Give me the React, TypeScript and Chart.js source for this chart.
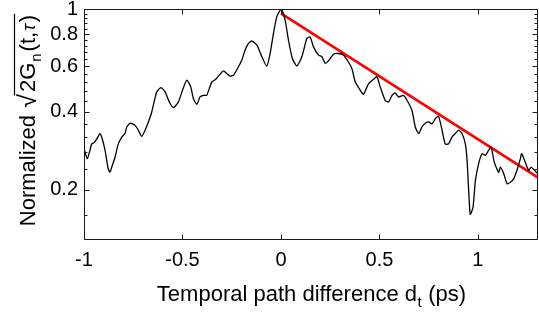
import React, { useEffect, useRef } from "react";
import { Chart, registerables } from "chart.js";

Chart.register(...registerables);

// ---- data ----
const traceX = [
  -1.0, -0.992, -0.983, -0.97, -0.961, -0.948, -0.935, -0.919, -0.91, -0.893,
  -0.877, -0.868, -0.859, -0.842, -0.826, -0.808, -0.792, -0.783, -0.766, -0.741,
  -0.724, -0.707, -0.69, -0.673, -0.656, -0.631, -0.609, -0.588, -0.567, -0.546,
  -0.521, -0.495, -0.478, -0.458, -0.445, -0.427, -0.411, -0.394, -0.377, -0.351,
  -0.334, -0.318, -0.292, -0.275, -0.258, -0.241, -0.216, -0.199, -0.182, -0.165,
  -0.148, -0.122, -0.097, -0.072, -0.055, -0.038, -0.021, 0.001, 0.021, 0.038,
  0.058, 0.081, 0.106, 0.132, 0.148, 0.165, 0.191, 0.208, 0.225, 0.241,
  0.267, 0.292, 0.318, 0.335, 0.36, 0.377, 0.402, 0.419, 0.445, 0.47,
  0.487, 0.504, 0.529, 0.546, 0.564, 0.58, 0.597, 0.622, 0.64, 0.665,
  0.682, 0.699, 0.716, 0.733, 0.75, 0.767, 0.784, 0.8, 0.818, 0.834,
  0.851, 0.868, 0.885, 0.902, 0.919, 0.936, 0.945, 0.953, 0.961, 0.975,
  0.987, 1.004, 1.021, 1.038, 1.054, 1.067, 1.083, 1.105, 1.114, 1.131,
  1.148, 1.165, 1.181, 1.198, 1.215, 1.222, 1.24, 1.258, 1.27, 1.287,
  1.303,
];
const traceY = [
  0.29, 0.275, 0.264, 0.284, 0.301, 0.305, 0.315, 0.33, 0.32, 0.284,
  0.241, 0.234, 0.245, 0.268, 0.301, 0.32, 0.33, 0.35, 0.362, 0.355,
  0.34, 0.322, 0.34, 0.366, 0.4, 0.478, 0.497, 0.478, 0.437, 0.416,
  0.437, 0.497, 0.531, 0.5, 0.451, 0.428, 0.457, 0.464, 0.464, 0.523,
  0.533, 0.55, 0.577, 0.563, 0.55, 0.555, 0.598, 0.634, 0.694, 0.736,
  0.752, 0.725, 0.654, 0.601, 0.673, 0.805, 0.934, 1.0, 0.906, 0.758,
  0.644, 0.603, 0.654, 0.77, 0.78, 0.714, 0.663, 0.654, 0.616, 0.63,
  0.669, 0.673, 0.663, 0.638, 0.589, 0.523, 0.486, 0.468, 0.515, 0.535,
  0.547, 0.5, 0.444, 0.437, 0.464, 0.474, 0.457, 0.464, 0.444, 0.406,
  0.35, 0.33, 0.35, 0.362, 0.366, 0.36, 0.377, 0.385, 0.34, 0.301,
  0.301, 0.32, 0.33, 0.34, 0.33, 0.301, 0.26, 0.199, 0.161, 0.171,
  0.217, 0.253, 0.276, 0.272, 0.284, 0.293, 0.256, 0.234, 0.245, 0.231,
  0.211, 0.214, 0.22, 0.238, 0.263, 0.276, 0.256, 0.238, 0.245, 0.238,
  0.231,
];
const fitX = [0, 1.305];
const fitY = [0.962, 0.223];

const xTickValues = [-1, -0.5, 0, 0.5, 1];
const yTickValues = [0.2, 0.4, 0.6, 0.8, 1];
const yMinorTickValues = [
  0.16, 0.24, 0.28, 0.32, 0.36, 0.44, 0.48, 0.52, 0.56, 0.64, 0.68, 0.72, 0.76,
  0.84, 0.88, 0.92, 0.96,
];
const X_MIN = -1;
const X_MAX = 1.305;
const Y_MIN = 0.128;
const Y_MAX = 1;

const xTitleMain = "Temporal path difference d";
const xTitleSub = "t";
const xTitleTail = " (ps)";
const yTitleLead = "Normalized ";
const yTitleRadical = "\u221A";
const yTitleA = "2G";
const yTitleSub = "n";
const yTitleB = "(t,";
const yTitleTau = "\u03C4";
const yTitleC = ")";

const FAMILY = "'Liberation Sans', Arial, Helvetica, sans-serif";

const framePlugin = {
  id: "frameAndTitles",
  afterDraw(chart: any) {
    const { ctx, chartArea: a, scales } = chart;
    const xs = scales.x;
    const ys = scales.y;
    const L = Math.floor(a.left) + 0.5;
    const R = Math.ceil(a.right) - 0.5;
    const T = Math.floor(a.top) + 0.5;
    const B = Math.ceil(a.bottom) - 0.5;
    ctx.save();
    ctx.strokeStyle = "#1a1a1a";
    ctx.lineWidth = 1;
    ctx.beginPath();
    ctx.rect(L, T, R - L, B - T);
    xTickValues.forEach((v) => {
      const p = Math.round(xs.getPixelForValue(v)) + 0.5;
      ctx.moveTo(p, B);
      ctx.lineTo(p, B - 5);
      ctx.moveTo(p, T);
      ctx.lineTo(p, T + 5);
    });
    yTickValues.forEach((v) => {
      const p = Math.round(ys.getPixelForValue(v)) + 0.5;
      ctx.moveTo(L, p);
      ctx.lineTo(L + 5, p);
      ctx.moveTo(R, p);
      ctx.lineTo(R - 5, p);
    });
    yMinorTickValues.forEach((v) => {
      const p = Math.round(ys.getPixelForValue(v)) + 0.5;
      ctx.moveTo(L, p);
      ctx.lineTo(L + 3, p);
      ctx.moveTo(R, p);
      ctx.lineTo(R - 3, p);
    });
    ctx.stroke();

    ctx.fillStyle = "#000";
    ctx.textBaseline = "alphabetic";
    ctx.textAlign = "left";

    // x title
    const big = `22px ${FAMILY}`;
    const small = `15px ${FAMILY}`;
    ctx.font = big;
    const w1 = ctx.measureText(xTitleMain).width;
    const w3 = ctx.measureText(xTitleTail).width;
    ctx.font = small;
    const w2 = ctx.measureText(xTitleSub).width;
    const cx = (a.left + a.right) / 2;
    const x0 = cx - (w1 + w2 + w3) / 2;
    const by = 301;
    ctx.font = big;
    ctx.fillText(xTitleMain, x0, by);
    ctx.font = small;
    ctx.fillText(xTitleSub, x0 + w1 + 0.5, by + 6);
    ctx.font = big;
    ctx.fillText(xTitleTail, x0 + w1 + w2 + 1, by);

    // y title (rotated)
    const tauFont = `italic 18px ${FAMILY}`;
    const radFont = `25px ${FAMILY}`;
    const pieces = [
      { t: yTitleLead, f: big, dy: 0, gap: 1 },
      { t: yTitleRadical, f: radFont, dy: 1, gap: 2 },
      { t: yTitleA, f: big, dy: 0, gap: 1 },
      { t: yTitleSub, f: small, dy: 6, gap: 2 },
      { t: yTitleB, f: big, dy: 0, gap: 1 },
      { t: yTitleTau, f: tauFont, dy: 0, gap: 2 },
      { t: yTitleC, f: big, dy: 0, gap: 0 },
    ];
    const widths = pieces.map((p) => {
      ctx.font = p.f;
      return ctx.measureText(p.t).width + p.gap;
    });
    const total = widths.reduce((s, w) => s + w, 0);
    const cy = (a.top + a.bottom) / 2 - 4;
    ctx.translate(35, cy);
    ctx.rotate(-Math.PI / 2);
    let px = -total / 2;
    let overStart = 0;
    pieces.forEach((p, i) => {
      ctx.font = p.f;
      ctx.fillText(p.t, px, p.dy);
      if (i === 1) overStart = px + widths[i] - p.gap - 1.5;
      px += widths[i];
    });
    ctx.beginPath();
    ctx.lineWidth = 1.2;
    ctx.strokeStyle = "#000";
    ctx.moveTo(overStart, -20.5);
    ctx.lineTo(px + 1, -20.5);
    ctx.stroke();
    ctx.restore();
  },
};

export default function App() {
  const ref = useRef<HTMLCanvasElement | null>(null);
  useEffect(() => {
    if (!ref.current) return;
    const chart = new Chart(ref.current, {
      type: "line",
      data: {
        datasets: [
          {
            data: traceX.map((x, i) => ({ x, y: traceY[i] })),
            borderColor: "#000000",
            borderWidth: 1.3,
            pointRadius: 0,
            tension: 0.2,
            fill: false,
          },
          {
            data: fitX.map((x, i) => ({ x, y: fitY[i] })),
            borderColor: "#ff0000",
            borderWidth: 2.6,
            pointRadius: 0,
            tension: 0,
            fill: false,
          },
        ],
      },
      options: {
        animation: false,
        responsive: false,
        devicePixelRatio: 1,
        layout: { padding: { top: 9, right: 1, left: 0, bottom: 0 } },
        plugins: {
          legend: { display: false },
          tooltip: { enabled: false },
          title: { display: false },
        },
        scales: {
          x: {
            type: "linear",
            min: X_MIN,
            max: X_MAX,
            grid: { display: false, drawTicks: false },
            border: { display: false },
            ticks: {
              color: "#000",
              padding: 8,
              font: { family: FAMILY, size: 20 },
              callback: (v: any) => String(v),
            },
            afterBuildTicks: (s: any) => {
              s.ticks = xTickValues.map((v) => ({ value: v }));
            },
            afterFit: (s: any) => {
              s.height = 76;
              s.paddingLeft = 0;
              s.paddingRight = 0;
            },
          },
          y: {
            type: "logarithmic",
            min: Y_MIN,
            max: Y_MAX,
            grid: { display: false, drawTicks: false },
            border: { display: false },
            ticks: {
              color: "#000",
              padding: 6,
              font: { family: FAMILY, size: 20, lineHeight: 0.8 },
              callback: (v: any) => String(v),
            },
            afterBuildTicks: (s: any) => {
              s.ticks = yTickValues.map((v) => ({ value: v }));
            },
            afterFit: (s: any) => {
              s.width = 84;
              s.paddingTop = 0;
              s.paddingBottom = 0;
            },
          },
        },
      },
      plugins: [framePlugin],
    });
    return () => chart.destroy();
  }, []);
  return (
    <div style={{ position: "fixed", left: 0, top: 0, width: 539, height: 316, background: "#fff" }}>
      <canvas ref={ref} width={539} height={316} style={{ display: "block" }} />
    </div>
  );
}
